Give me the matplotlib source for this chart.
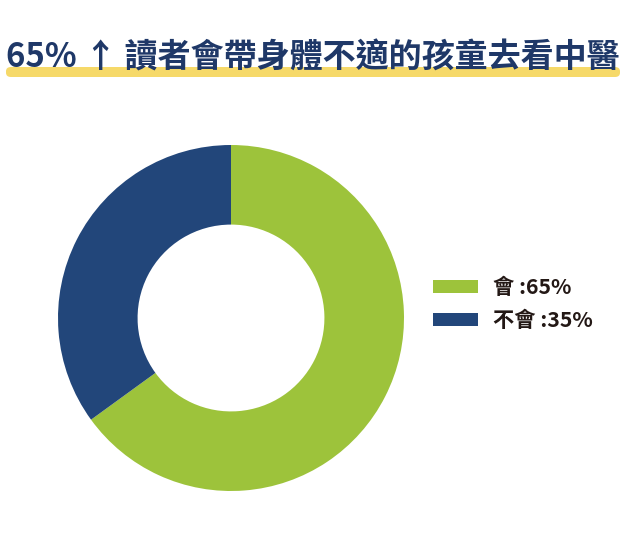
import matplotlib.pyplot as plt
from matplotlib.patches import FancyBboxPatch, Patch

plt.rcParams['font.family'] = ['Noto Sans CJK TC', 'DejaVu Sans']

labels = ['會', '不會']
values = [65, 35]
colors = ['#9dc33b', '#22467a']
title = '65% ↑ 讀者會帶身體不適的孩童去看中醫'

W, H = 624, 540
fig = plt.figure(figsize=(W / 100, H / 100), dpi=100)

# yellow highlight under the title
bar = FancyBboxPatch((6 / W, (H - 77) / H), 614 / W, 10 / H,
                     boxstyle='round,pad=0,rounding_size=0.008',
                     transform=fig.transFigure, facecolor='#f6d969',
                     edgecolor='none', zorder=0)
fig.patches.append(bar)
fig.text(313 / W, (H - 58) / H, title, ha='center', va='center',
         fontsize=23.8, fontweight='bold', color='#1f3868', zorder=2)

# donut
cx, cy, r = 231, 318, 173
ax = fig.add_axes([(cx - r) / W, (H - cy - r) / H, 2 * r / W, 2 * r / H])
ax.pie(values, colors=colors, startangle=90, counterclock=False, radius=1,
       wedgeprops=dict(width=0.46, edgecolor='none'))
ax.set_xlim(-1, 1)
ax.set_ylim(-1, 1)
ax.set_aspect('equal')
ax.axis('off')

handles = [Patch(facecolor=c, edgecolor='none') for c in colors]
leg_labels = [f'{l} :{v}%' for l, v in zip(labels, values)]
fig.legend(handles, leg_labels, loc='center left',
           bbox_to_anchor=(433 / W, (H - 304) / H), frameon=False,
           borderpad=0, borderaxespad=0,
           prop=dict(size=15.3, weight='bold'), handlelength=2.1,
           handleheight=0.6, labelspacing=0.55, handletextpad=0.72,
           labelcolor='#231815')

fig.savefig('out.png', dpi=100)
